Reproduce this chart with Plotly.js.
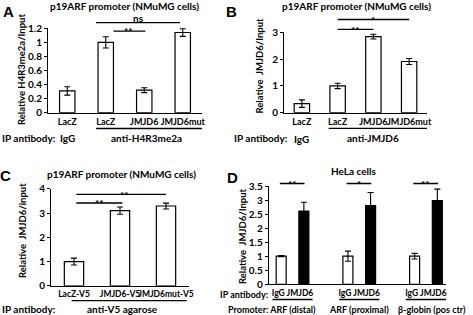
<!DOCTYPE html>
<html><head><meta charset="utf-8">
<script src="https://cdn.plot.ly/plotly-3.0.1.min.js"></script>
<style>html,body{margin:0;padding:0;background:#fff}#chart{width:473px;height:315px}</style>
</head><body><div id="chart"></div>
<script>
// ---- data ----
const catsA = ['LacZ', 'LacZ', 'JMJD6', 'JMJD6mut'];
const valsA = [0.31, 1.0, 0.32, 1.14];
const errA  = [0.06, 0.08, 0.035, 0.055];

const catsB = ['LacZ', 'LacZ', 'JMJD6', 'JMJD6mut'];
const valsB = [0.34, 1.0, 2.84, 1.91];
const errB  = [0.14, 0.1, 0.09, 0.11];

const catsC = ['LacZ-V5', 'JMJD6-V5', 'JMJD6mut-V5'];
const valsC = [1.0, 3.1, 3.29];
const errC  = [0.14, 0.15, 0.12];

const groupsD   = ['IgG JMJD6', 'IgG JMJD6', 'IgG JMJD6'];
const promoters = ['Promoter: ARF (distal)', 'ARF (proximal)', 'β-globin (pos ctr)'];
const iggD      = [1.0, 1.0, 1.0];
const iggErrD   = [0.02, 0.18, 0.1];
const jmjdD     = [2.61, 2.8, 2.98];
const jmjdErrD  = [0.31, 0.47, 0.41];

// ---- helpers ----
const W = 473, H = 315;
const px = x => x / W;
const py = y => 1 - y / H;
const FONT = 'Lato, "Open Sans", sans-serif';
const idx = a => a.map((_, i) => i);

function barTrace(x, y, err, xa, ya, fill, width, offset) {
  const t = {
    type: 'bar', x: x, y: y, xaxis: xa, yaxis: ya,
    marker: {color: fill, line: {color: '#000', width: 1.2}},
    error_y: {type: 'data', array: err, visible: true, color: '#000', thickness: 1.1, width: 3},
    width: width, showlegend: false, hoverinfo: 'skip'
  };
  if (offset !== undefined) t.offset = offset;
  return t;
}

const data = [
  barTrace(idx(catsA), valsA, errA, 'x', 'y', '#fff', 0.4),
  barTrace(idx(catsB), valsB, errB, 'x2', 'y2', '#fff', 0.43),
  barTrace(idx(catsC), valsC, errC, 'x3', 'y3', '#fff', 0.42),
  barTrace(idx(groupsD), iggD, iggErrD, 'x4', 'y4', '#fff', 0.15, -0.245),
  barTrace(idx(groupsD), jmjdD, jmjdErrD, 'x4', 'y4', '#000', 0.15, 0.095)
];

const bold = (size) => ({family: FONT, size: size, color: '#000', weight: 'bold'});
function xax(domain, anchor, ticktext, range, fs) {
  return {domain: domain, anchor: anchor, range: range, tickmode: 'array',
    tickvals: idx(ticktext), ticktext: ticktext, tickangle: 0, showline: true, linecolor: '#000', linewidth: 1,
    ticks: '', showgrid: false, zeroline: false, tickfont: bold(fs), fixedrange: true};
}
function yax(domain, anchor, range, dtick) {
  return {domain: domain, anchor: anchor, range: range, dtick: dtick, showline: true,
    linecolor: '#000', linewidth: 1, ticks: 'outside', ticklen: 3, tickcolor: '#000',
    showgrid: false, zeroline: false, tickfont: bold(10), fixedrange: true};
}

const layout = {
  width: W, height: H, margin: {l: 0, r: 0, t: 0, b: 0},
  paper_bgcolor: '#fff', plot_bgcolor: 'rgba(0,0,0,0)',
  font: {family: FONT, color: '#000'},
  xaxis:  xax([px(48), px(202)], 'y', catsA, [-0.5, 3.5], 9),
  yaxis:  yax([py(112.7), py(28.3)], 'x', [0, 1.2], 0.2),
  xaxis2: xax([px(284), px(427)], 'y2', catsB, [-0.5, 3.5], 9),
  yaxis2: yax([py(112.7), py(32.3)], 'x2', [0, 3], 1),
  xaxis3: xax([px(51), px(189)], 'y3', catsC, [-0.5, 2.5], 8.5),
  yaxis3: yax([py(285.8), py(188.8)], 'x3', [0, 4], 1),
  xaxis4: xax([px(268.7), px(446)], 'y4', groupsD, [-0.357, 2.3], 8.5),
  yaxis4: yax([py(284.3), py(186)], 'x4', [0, 3.5], 0.5),
  shapes: [], annotations: []
};

const ann = layout.annotations, shp = layout.shapes;
function text(t, x, y, opt) {
  ann.push(Object.assign({text: t, x: px(x), y: py(y), xref: 'paper', yref: 'paper',
    showarrow: false, xanchor: 'center', yanchor: 'middle', font: bold(10)}, opt || {}));
}
function axText(t, xa, xv, y, opt) {
  ann.push(Object.assign({text: t, x: xv, y: py(y), xref: xa, yref: 'paper',
    showarrow: false, xanchor: 'center', yanchor: 'middle', font: bold(10)}, opt || {}));
}
function axLine(xa, x0, x1, y) {
  shp.push({type: 'line', xref: xa, yref: 'paper', x0: x0, x1: x1, y0: py(y), y1: py(y),
    line: {color: '#000', width: 1.3}});
}
const panelFont = {family: 'Liberation Sans, Arial, sans-serif', size: 15, color: '#000', weight: 'bold'};
const vtitle = (t, x, y) => text(t, x, y, {textangle: -90, font: bold(9.5)});

// Panel A
text('A', 8, 12, {font: panelFont});
text('p19ARF promoter (NMuMG cells)', 124, 6);
vtitle('Relative H4R3me2a/Input', 21, 70);
axLine('x', 0.75, 2.93, 22.7); axText('ns', 'x', 1.85, 17.5);
axLine('x', 1.2, 2.03, 31.2); axText('**', 'x', 1.6, 31);
text('IP antibody:', 0, 138, {xanchor: 'left'});
axText('IgG', 'x', 0, 138);
axLine('x', 0.75, 3.8, 128.5);
axText('anti-H4R3me2a', 'x', 2.05, 138);

// Panel B
text('B', 231, 12, {font: panelFont});
text('p19ARF promoter (NMuMG cells)', 356, 6);
vtitle('Relative  JMJD6/Input', 258.5, 66);
axLine('x2', 1, 2, 29.3); axText('**', 'x2', 1.5, 29.5);
axLine('x2', 1, 3, 19.5); axText('*', 'x2', 2, 19.5);
text('IP antibody:', 232, 138, {xanchor: 'left'});
axText('IgG', 'x2', 0, 139);
axLine('x2', 0.75, 3.9, 128.3);
axText('anti-JMJD6', 'x2', 2, 138);

// Panel C
text('C', 5, 175, {font: panelFont});
text('p19ARF promoter (NMuMG cells)', 121, 174);
vtitle('Relative  JMJD6/input', 23, 231);
axLine('x3', 0.05, 2, 194.3); axText('**', 'x3', 1.1, 194.5);
axLine('x3', 0.05, 1.05, 203); axText('**', 'x3', 0.55, 203);
text('IP antibody:', 0, 309, {xanchor: 'left'});
axLine('x3', -0.05, 2.45, 300.7);
axText('anti-V5 agarose', 'x3', 1.05, 309);

// Panel D
text('D', 232, 177, {font: panelFont});
text('HeLa cells', 354, 171.5);
vtitle('Relative  JMJD6/Input', 242, 236);
[0, 1, 2].forEach(g => {
  axLine('x4', g - 0.19, g + 0.18, 183.5);
  axLine('x4', g - 0.3, g + 0.3, 299.5);
});
axText('**', 'x4', 0, 183.5); axText('*', 'x4', 1, 184); axText('**', 'x4', 2, 183.5);
text('IP antibody:', 270, 294, {xanchor: 'right', font: bold(9)});
text(promoters[0], 318, 309, {xanchor: 'right', font: bold(9)});
axText(promoters[1], 'x4', 1, 309, {font: bold(9)});
axText(promoters[2], 'x4', 2.09, 309, {font: bold(9)});

Plotly.newPlot('chart', data, layout, {staticPlot: true, displayModeBar: false});
</script></body></html>
